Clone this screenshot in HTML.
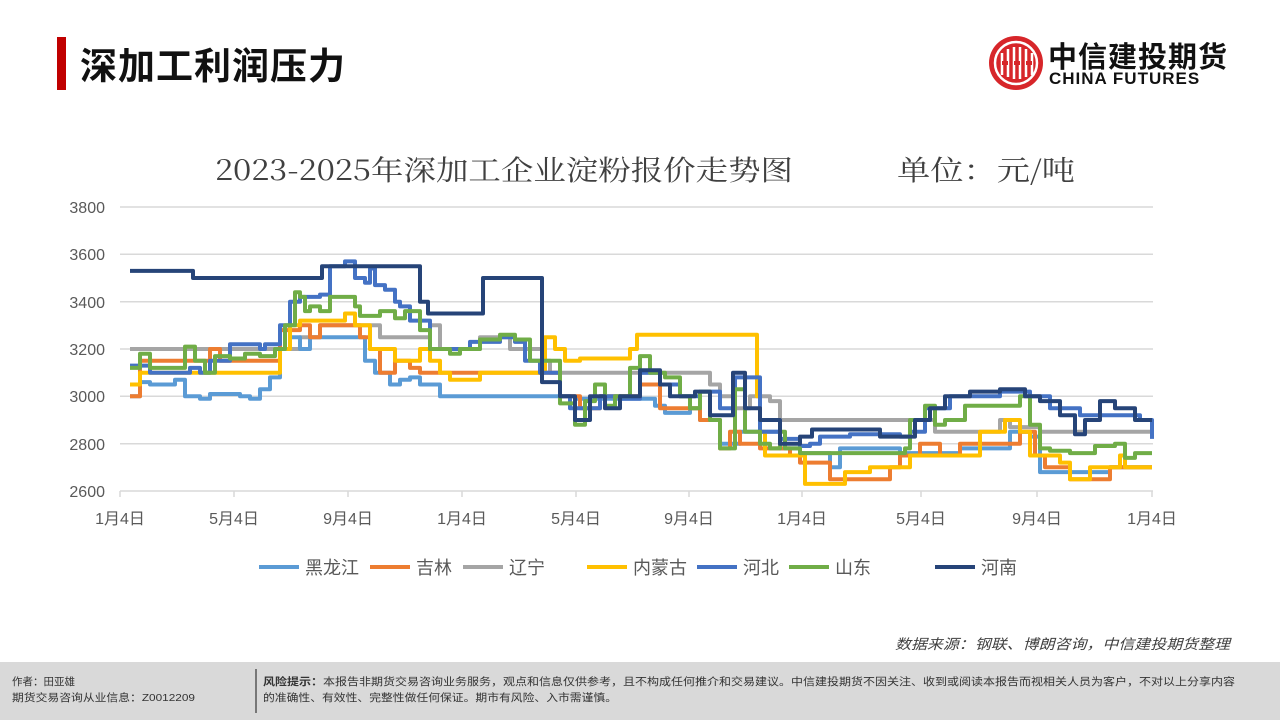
<!DOCTYPE html>
<html><head><meta charset="utf-8">
<style>
body{margin:0;width:1280px;height:720px;overflow:hidden;background:#fff;font-family:"Liberation Sans","Noto Sans CJK SC",sans-serif;position:relative}
.abs{position:absolute}
</style></head><body>
<div class="abs" style="left:57px;top:37px;width:9px;height:53px;background:#c00000"></div>
<div class="abs" style="left:80px;top:36px;font-size:37px;font-weight:bold;color:#111;letter-spacing:1px">深加工利润压力</div>
<svg class="abs" style="left:988px;top:35px" width="56" height="56" viewBox="0 0 56 56">
<circle cx="28" cy="28" r="27" fill="#d7262a"/>
<circle cx="28" cy="28" r="21" fill="none" stroke="#fff" stroke-width="2.5"/>
<path d="M14 18v22M20 14v28M26 12v32M32 12v32M38 14v28M44 18v22" stroke="#fff" stroke-width="2.5"/>
<path d="M14 28h6M38 28h6M26 28h6" stroke="#d7262a" stroke-width="4"/>
</svg>
<div class="abs" style="left:1048px;top:34px;font-size:29px;font-weight:bold;color:#111;letter-spacing:1px">中信建投期货</div>
<div class="abs" style="left:1049px;top:69px;font-size:17px;font-weight:bold;color:#111;letter-spacing:1px">CHINA FUTURES</div>
<svg class="abs" style="left:0;top:0" width="1280" height="720" id="ch">
<g font-family="'Noto Serif CJK SC','Liberation Serif',serif" font-size="28" fill="#404040">
<text x="215" y="180" textLength="578" lengthAdjust="spacingAndGlyphs">2023-2025年深加工企业淀粉报价走势图</text>
<text x="897" y="180" textLength="178" lengthAdjust="spacingAndGlyphs">单位：元/吨</text>
</g>
<g stroke="#d9d9d9" stroke-width="1.5">
<line x1="120" x2="1153" y1="207" y2="207"/><line x1="120" x2="1153" y1="254.3" y2="254.3"/><line x1="120" x2="1153" y1="301.7" y2="301.7"/><line x1="120" x2="1153" y1="349" y2="349"/><line x1="120" x2="1153" y1="396.3" y2="396.3"/><line x1="120" x2="1153" y1="443.7" y2="443.7"/><line x1="120" x2="1153" y1="491" y2="491"/>
<line x1="120" x2="120" y1="491" y2="497"/><line x1="234" x2="234" y1="491" y2="497"/><line x1="348" x2="348" y1="491" y2="497"/><line x1="462" x2="462" y1="491" y2="497"/><line x1="576" x2="576" y1="491" y2="497"/><line x1="689" x2="689" y1="491" y2="497"/><line x1="802" x2="802" y1="491" y2="497"/><line x1="921" x2="921" y1="491" y2="497"/><line x1="1037" x2="1037" y1="491" y2="497"/><line x1="1152" x2="1152" y1="491" y2="497"/>
</g>
<g font-size="16" fill="#595959" text-anchor="end">
<text x="105" y="213">3800</text><text x="105" y="260">3600</text><text x="105" y="308">3400</text><text x="105" y="355">3200</text><text x="105" y="402">3000</text><text x="105" y="450">2800</text><text x="105" y="497">2600</text>
</g>
<g font-size="16" fill="#595959" text-anchor="middle">
<text x="120" y="524">1月4日</text><text x="234" y="524">5月4日</text><text x="348" y="524">9月4日</text><text x="462" y="524">1月4日</text><text x="576" y="524">5月4日</text><text x="689" y="524">9月4日</text><text x="802" y="524">1月4日</text><text x="921" y="524">5月4日</text><text x="1037" y="524">9月4日</text><text x="1152" y="524">1月4日</text>
</g>
<g id="series" fill="none" stroke-width="4" stroke-linejoin="round"></g>
<g font-size="18" fill="#595959">
<line x1="259" x2="299" y1="567" y2="567" stroke="#5b9bd5" stroke-width="4"/><text x="305" y="574">黑龙江</text>
<line x1="370" x2="410" y1="567" y2="567" stroke="#ed7d31" stroke-width="4"/><text x="416" y="574">吉林</text>
<line x1="463" x2="503" y1="567" y2="567" stroke="#a5a5a5" stroke-width="4"/><text x="509" y="574">辽宁</text>
<line x1="587" x2="627" y1="567" y2="567" stroke="#ffc000" stroke-width="4"/><text x="633" y="574">内蒙古</text>
<line x1="697" x2="737" y1="567" y2="567" stroke="#4472c4" stroke-width="4"/><text x="743" y="574">河北</text>
<line x1="789" x2="829" y1="567" y2="567" stroke="#70ad47" stroke-width="4"/><text x="835" y="574">山东</text>
<line x1="935" x2="975" y1="567" y2="567" stroke="#264478" stroke-width="4"/><text x="981" y="574">河南</text>
</g>
<text x="895" y="649" font-size="14" fill="#404040" font-style="italic" textLength="335" lengthAdjust="spacingAndGlyphs">数据来源：钢联、博朗咨询，中信建投期货整理</text>
<rect x="0" y="662" width="1280" height="58" fill="#d9d9d9"/>
<rect x="255" y="669" width="2" height="44" fill="#777"/>
<g font-size="10.5" fill="#333">
<text x="12" y="685">作者：田亚雄</text>
<text x="12" y="701" textLength="183" lengthAdjust="spacingAndGlyphs">期货交易咨询从业信息：Z0012209</text>
<text x="263" y="685" textLength="972" lengthAdjust="spacingAndGlyphs"><tspan font-weight="bold">风险提示：</tspan>本报告非期货交易咨询业务服务，观点和信息仅供参考，且不构成任何推介和交易建议。中信建投期货不因关注、收到或阅读本报告而视相关人员为客户，不对以上分享内容</text>
<text x="263" y="701" textLength="354" lengthAdjust="spacingAndGlyphs">的准确性、有效性、完整性做任何保证。期市有风险、入市需谨慎。</text>
</g>
</svg>
<script>
var S=[
["#a5a5a5","130:3200,280:3200,300:3250,320:3300,370:3300,380:3250,430:3300,440:3200,475:3200,480:3250,500:3250,510:3200,540:3200,545:3150,550:3100,700:3100,710:3050,720:3000,735:2950,750:3000,770:2980,780:2900,925:2900,935:2850,995:2850,1000:2900,1010:2870,1040:2850,1152:2850"],
["#5b9bd5","130:3000,140:3060,150:3050,175:3070,185:3000,200:2990,210:3010,240:3000,250:2990,260:3030,270:3080,280:3200,290:3250,300:3200,310:3250,355:3250,365:3150,375:3100,390:3050,400:3070,410:3080,420:3050,440:3000,560:3000,575:2990,590:2990,620:2990,640:2990,655:2960,665:2930,690:2950,700:2900,720:2800,740:2850,760:2850,780:2780,800:2760,830:2700,840:2780,900:2760,960:2780,1000:2780,1010:2850,1030:2830,1040:2680,1110:2700,1152:2700"],
["#ed7d31","130:3000,140:3150,200:3150,210:3200,220:3150,260:3150,280:3280,300:3300,310:3250,320:3300,355:3300,360:3250,370:3200,380:3100,395:3150,410:3120,420:3100,540:3100,560:3000,580:2950,600:3000,640:3050,660:2950,680:2950,700:2900,720:2780,730:2850,740:2800,760:2780,790:2750,800:2720,825:2720,830:2650,880:2650,890:2700,900:2750,920:2800,940:2750,960:2800,1000:2800,1020:2850,1035:2750,1045:2700,1070:2650,1100:2650,1110:2700,1152:2700"],
["#ffc000","130:3050,140:3100,270:3100,280:3200,290:3300,300:3320,340:3320,345:3350,355:3300,365:3300,370:3200,390:3200,395:3150,410:3150,420:3200,430:3150,440:3100,450:3070,470:3070,480:3100,540:3100,545:3250,555:3200,565:3150,580:3160,620:3160,630:3200,637:3260,755:3260,757:3000,760:2850,765:2750,800:2750,805:2630,840:2630,845:2680,860:2680,870:2700,900:2700,910:2750,960:2750,980:2850,1000:2850,1005:2900,1015:2900,1020:2850,1030:2750,1060:2720,1070:2650,1080:2650,1090:2700,1110:2700,1120:2750,1125:2700,1152:2700"],
["#4472c4","130:3130,150:3100,180:3100,190:3120,200:3100,210:3150,230:3220,260:3200,265:3220,280:3300,290:3400,300:3420,320:3430,330:3550,345:3570,355:3500,365:3480,370:3540,375:3470,385:3450,395:3400,400:3380,410:3320,430:3200,440:3200,470:3230,490:3230,500:3250,515:3230,525:3150,540:3100,560:3000,570:2950,600:3000,620:2990,640:3100,660:3050,680:3000,700:3020,720:2950,735:3080,760:2850,780:2820,800:2790,810:2800,820:2830,850:2840,880:2840,900:2830,910:2850,925:2950,950:3000,1000:3020,1030:3000,1050:2950,1080:2920,1115:2920,1140:2900,1152:2820"],
["#70ad47","130:3120,140:3180,150:3120,170:3120,185:3210,195:3150,205:3100,215:3170,230:3160,245:3180,260:3170,275:3200,285:3300,295:3440,300:3420,305:3360,310:3380,320:3360,330:3420,350:3420,355:3380,360:3340,380:3360,395:3330,405:3360,420:3280,430:3200,440:3200,450:3180,460:3200,480:3240,500:3260,515:3240,530:3150,560:2970,575:2880,585:2980,595:3050,605:2960,615:3000,630:3120,640:3170,650:3100,665:3080,680:3000,690:2950,700:3020,710:2900,720:2780,735:3030,745:2850,760:2800,770:2780,780:2850,785:2780,800:2760,885:2760,905:2780,910:2900,925:2960,935:2880,945:2900,965:2960,1010:2960,1020:3000,1030:2880,1040:2780,1050:2770,1070:2760,1095:2790,1115:2800,1125:2740,1135:2760,1152:2760"],
["#264478","130:3530,193:3500,322:3550,418:3550,420:3400,428:3350,480:3350,483:3500,540:3500,542:3060,560:3000,575:2900,590:3000,605:2950,620:3000,640:3110,660:3050,670:3000,695:3020,710:2920,733:3100,745:2950,760:2900,780:2800,800:2830,812:2860,870:2860,880:2830,900:2830,915:2900,930:2950,945:3000,970:3020,1000:3030,1025:3000,1040:2980,1060:2920,1075:2840,1085:2900,1100:2980,1115:2950,1135:2900,1152:2900"]
];
var g=document.getElementById("series"),ns="http://www.w3.org/2000/svg";
function Y(v){return 491-(v-2600)*0.23667;}
S.forEach(function(s){
 var p=s[1].split(",").map(function(t){var a=t.split(":");return [+a[0],+a[1]];});
 var d="M"+p[0][0]+" "+Y(p[0][1]).toFixed(1);
 for(var i=1;i<p.length;i++){d+=" L"+p[i][0]+" "+Y(p[i-1][1]).toFixed(1)+" L"+p[i][0]+" "+Y(p[i][1]).toFixed(1);}
 var e=document.createElementNS(ns,"path");e.setAttribute("d",d);e.setAttribute("stroke",s[0]);g.appendChild(e);
});
</script>
</body></html>
